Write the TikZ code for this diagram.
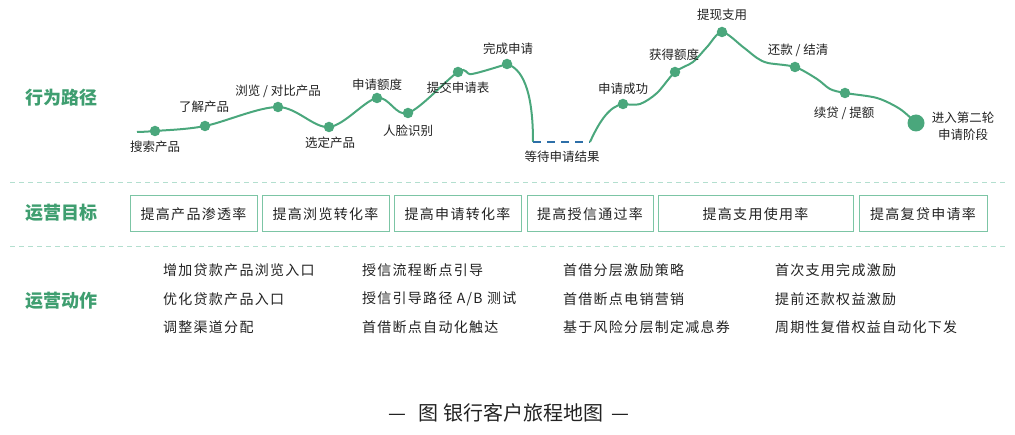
\documentclass[tikz,border=0pt]{standalone}
\usepackage{fontspec}
\setmainfont{Noto Sans CJK SC}
\newfontfamily\spaced[LetterSpace=9]{Noto Sans CJK SC}
\definecolor{curvegreen}{HTML}{4AA77C}
\definecolor{headgreen}{HTML}{3F9E70}
\definecolor{sepline}{HTML}{B3DFCF}
\definecolor{boxline}{HTML}{7CC5A5}
\definecolor{waitblue}{HTML}{2D6FA8}
\definecolor{txt}{HTML}{222222}
\begin{document}
\begin{tikzpicture}[x=1pt,y=-1pt,
  dotn/.style={circle,fill=curvegreen,inner sep=0pt,minimum size=10.5pt},
  lbl/.style={font=\fontsize{12.5}{15}\selectfont,text=txt,inner sep=0pt},
  head/.style={font=\fontsize{18}{20}\selectfont\bfseries,text=headgreen,inner sep=0pt},
  goalbox/.style={draw=boxline,line width=1pt,inner sep=0pt,font=\spaced\fontsize{14}{16}\selectfont,text=txt},
  act/.style={font=\spaced\fontsize{14}{16}\selectfont,text=txt,anchor=west,inner sep=0pt},
  sep/.style={draw=sepline,line width=1pt,dash pattern=on 5pt off 4pt},
  curve/.style={draw=curvegreen,line width=2pt}
]
\useasboundingbox (0,0) rectangle (1015,435);

% path points
\coordinate (s0) at (137,132);
\coordinate (p1) at (155,131);
\coordinate (p2) at (205,126);
\coordinate (p3) at (278,107);
\coordinate (p4) at (329,127);
\coordinate (p5) at (377,98);
\coordinate (p6) at (408,113);
\coordinate (p7) at (458,72);
\coordinate (p8) at (507,64);
\coordinate (w1) at (533,142);
\coordinate (w2) at (590,142);
\coordinate (p9) at (623,104);
\coordinate (p10) at (675,72);
\coordinate (p11) at (722,32);
\coordinate (p12) at (795,67);
\coordinate (p13) at (845,93);
\coordinate (p14) at (916,123);

% curve
\draw[curve] plot[smooth,tension=0.55] coordinates {(s0) (p1) (p2) (p3) (p4) (p5) (p6) (p7) (472,74) (p8)};
\draw[curve] (p8) .. controls (526,70) and (533,100) .. (w1);
\draw[draw=waitblue,line width=2pt,dash pattern=on 8pt off 6pt] (w1) -- (w2);
\draw[curve] (w2) .. controls (600,120) and (610,106) .. (p9);
\draw[curve] plot[smooth,tension=0.5] coordinates {(p9) (640,104) (657,93) (p10) (693,62) (707,47) (p11) (743,47) (757,58) (768,63) (p12) (817,79) (830,89) (p13) (877,98) (900,109) (p14)};

% dots
\foreach \p in {p1,p2,p3,p4,p5,p6,p7,p8,p9,p10,p11,p12,p13}
  \node[dotn] (d\p) at (\p) {};
\node[circle,fill=curvegreen,inner sep=0pt,minimum size=17pt] (dend) at (p14) {};

% labels
\node[lbl] (l1) at (155,147) {搜索产品};
\node[lbl] (l2) at (204,107) {了解产品};
\node[lbl] (l3) at (278,91) {浏览 / 对比产品};
\node[lbl] (l4) at (330,143) {选定产品};
\node[lbl] (l5) at (377,85) {申请额度};
\node[lbl] (l6) at (408,131) {人脸识别};
\node[lbl] (l7) at (458,88) {提交申请表};
\node[lbl] (l8) at (508,49) {完成申请};
\node[lbl] (lw) at (562,157) {等待申请结果};
\node[lbl] (l9) at (623,89) {申请成功};
\node[lbl] (l10) at (674,55) {获得额度};
\node[lbl] (l11) at (722,15) {提现支用};
\node[lbl] (l12) at (798,50) {还款 / 结清};
\node[lbl] (l13) at (844,113) {续贷 / 提额};
\node[lbl,align=center,font=\fontsize{12.5}{17}\selectfont] (l14) at (963,126) {进入第二轮\\申请阶段};

% section heads
\node[head] (h1) at (61,98) {行为路径};
\node[head] (h2) at (61,213) {运营目标};
\node[head] (h3) at (61,301) {运营动作};

% separators
\coordinate (sa1) at (10,183); \coordinate (sa2) at (1008,183);
\coordinate (sb1) at (10,247); \coordinate (sb2) at (1008,247);
\draw[sep] (sa1) -- (sa2);
\draw[sep] (sb1) -- (sb2);

% goal boxes
\node[goalbox,minimum width=127pt,minimum height=36pt] (g1) at (193.5,214) {提高产品渗透率};
\node[goalbox,minimum width=127pt,minimum height=36pt] (g2) at (325.5,214) {提高浏览转化率};
\node[goalbox,minimum width=127pt,minimum height=36pt] (g3) at (457.5,214) {提高申请转化率};
\node[goalbox,minimum width=126pt,minimum height=36pt] (g4) at (590,214) {提高授信通过率};
\node[goalbox,minimum width=195pt,minimum height=36pt] (g5) at (755.5,214) {提高支用使用率};
\node[goalbox,minimum width=128pt,minimum height=36pt] (g6) at (923,214) {提高复贷申请率};

% actions
\node[act] (a11) at (163,270) {增加贷款产品浏览入口};
\node[act] (a12) at (163,299) {优化贷款产品入口};
\node[act] (a13) at (163,327) {调整渠道分配};
\node[act] (a21) at (362,270) {授信流程断点引导};
\node[act] (a22) at (362,299) {授信引导路径 A/B 测试};
\node[act] (a23) at (362,327) {首借断点自动化触达};
\node[act] (a31) at (563,270) {首借分层激励策略};
\node[act] (a32) at (563,299) {首借断点电销营销};
\node[act] (a33) at (563,327) {基于风险分层制定减息券};
\node[act] (a41) at (775,270) {首次支用完成激励};
\node[act] (a42) at (775,299) {提前还款权益激励};
\node[act] (a43) at (775,327) {周期性复借权益自动化下发};

% title
\node[font=\fontsize{20}{22}\selectfont,text=txt,inner sep=0pt] (title) at (509,413) {—\hspace{12pt}图 银行客户旅程地图\hspace{8pt}—};
\end{tikzpicture}
\end{document}
